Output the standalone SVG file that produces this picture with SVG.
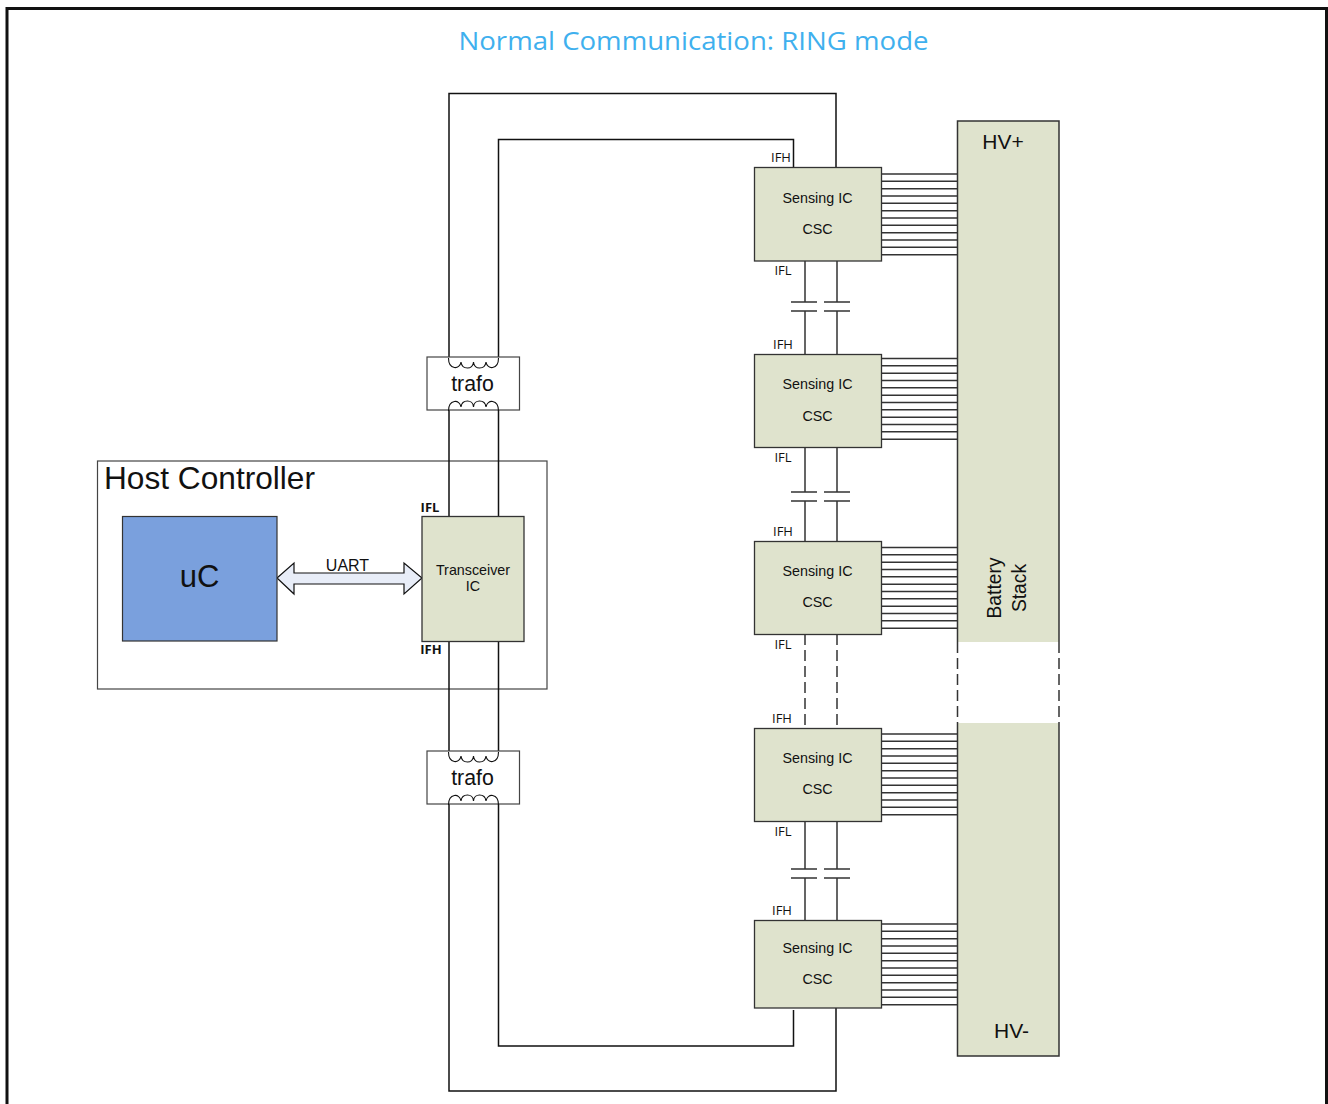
<svg xmlns="http://www.w3.org/2000/svg" width="1328" height="1104" viewBox="0 0 1328 1104">
<style>
text{font-family:"Liberation Sans",Arial,sans-serif;fill:#111;text-anchor:middle}
.b{fill:#dfe3cd;stroke:#333;stroke-width:1.3}
.w{fill:none;stroke:#111;stroke-width:1.5}
.g{fill:none;stroke:#333;stroke-width:1.5}
.d{stroke-dasharray:11 5}
.s{font-size:14.300px}
.l{font-family:"Open Sans","Liberation Sans",sans-serif;font-size:13px}
.t{font-size:21.300px}
.h{font-size:21px}
</style>
<defs>
<g id="wires" class="g">
<path d="M881 0H957M881 7.33H957M881 14.67H957M881 22H957M881 29.33H957M881 36.67H957M881 44H957M881 51.33H957M881 58.67H957M881 66H957M881 73.33H957M881 80.67H957"/>
</g>
<g id="coilT"><path class="w" style="stroke-width:1.100" d="M448.500 0C448.500 12 460 12 461 4C462 12 473 12 473.500 4C474 12 485 12 486 4C487 12 498.500 12 498.500 0"/></g>
<g id="coilB"><path class="w" style="stroke-width:1.100" d="M448.500 12C448.500 0 460 0 461 8C462 0 473 0 473.500 8C474 0 485 0 486 8C487 0 498.500 0 498.500 12"/></g>
<g id="cap" class="g"><path d="M791 0H817M791 9H817M824 0H850M824 9H850"/></g>
</defs>
<rect width="1328" height="1104" fill="#fff"/>
<path d="M7 1104V8.500H1326.500V1104" fill="none" stroke="#111" stroke-width="3"/>
<text id="title" x="693.500" y="50" style="font-family:'Open Sans','Liberation Sans',sans-serif;font-size:26px;fill:#3fb0ee" textLength="470" lengthAdjust="spacingAndGlyphs">Normal Communication: RING mode</text>

<g id="host-controller">
<rect x="97.500" y="461" width="449.500" height="228" fill="none" stroke="#444" stroke-width="1.200"/>
<text x="104" y="489" style="font-size:30.500px;text-anchor:start" textLength="211" lengthAdjust="spacingAndGlyphs">Host Controller</text>
</g>

<g id="connectors">
<path class="w" d="M449 357V93.500H836V167"/>
<path class="w" d="M498.500 357V139.500H793.500V167"/>
<path class="w" d="M449 804V1091H836V1008"/>
<path class="w" d="M498.500 804V1046H793.500V1010"/>
<path class="w" d="M449 410V516M498.500 410V516M449 641V751M498.500 641V751"/>
<path class="g" d="M805 261V302M805 311V354M837 261V302M837 311V354"/>
<use href="#cap" y="302"/>
<path class="g" d="M805 447V492M805 501V541M837 447V492M837 501V541"/>
<use href="#cap" y="492"/>
<path class="g d" d="M805 634V728M837 634V728"/>
<path class="g" d="M805 821V869M805 878V920M837 821V869M837 878V920"/>
<use href="#cap" y="869"/>
<use href="#wires" y="174"/>
<use href="#wires" y="358.500"/>
<use href="#wires" y="547.500"/>
<use href="#wires" y="734"/>
<use href="#wires" y="924"/>
<path d="M277 578L294 563V573H404V563L422 578L404 594V584H294V594Z" fill="#e8edf8" stroke="#111" stroke-width="1.200"/>
<text x="347.500" y="571" style="font-size:16px">UART</text>
</g>

<g id="trafo-top">
<rect x="427" y="357" width="92.500" height="53" fill="#fff" stroke="#444" stroke-width="1.200"/>
<use href="#coilT" y="358"/>
<use href="#coilB" y="399"/>
<text x="472.500" y="390.500" class="t">trafo</text>
</g>
<g id="trafo-bottom">
<rect x="427" y="751" width="92.500" height="53" fill="#fff" stroke="#444" stroke-width="1.200"/>
<use href="#coilT" y="752"/>
<use href="#coilB" y="793"/>
<text x="472.500" y="784.500" class="t">trafo</text>
</g>

<g id="uc">
<rect x="122.500" y="516.500" width="154.500" height="124.500" fill="#7aa0dd" stroke="#333" stroke-width="1.200"/>
<text x="199.500" y="587" style="font-size:31px">uC</text>
</g>
<g id="transceiver">
<rect class="b" x="422" y="516.500" width="102" height="125"/>
<text x="473" y="575" class="s">Transceiver</text>
<text x="473" y="591" class="s">IC</text>
<text x="430" y="512" class="l" style="font-weight:700">IFL</text>
<text x="431" y="654" class="l" style="font-weight:700">IFH</text>
</g>

<g id="csc-1">
<rect class="b" x="754.500" y="167.500" width="127" height="93.500"/>
<text x="817.500" y="203" class="s">Sensing IC</text>
<text x="817.500" y="234" class="s">CSC</text>
<text x="781" y="162" class="l">IFH</text>
<text x="783" y="275" class="l">IFL</text>
</g>
<g id="csc-2">
<rect class="b" x="754.500" y="354.500" width="127" height="93"/>
<text x="817.500" y="389" class="s">Sensing IC</text>
<text x="817.500" y="421" class="s">CSC</text>
<text x="783" y="349" class="l">IFH</text>
<text x="783" y="462" class="l">IFL</text>
</g>
<g id="csc-3">
<rect class="b" x="754.500" y="541.500" width="127" height="93"/>
<text x="817.500" y="576" class="s">Sensing IC</text>
<text x="817.500" y="607" class="s">CSC</text>
<text x="783" y="536" class="l">IFH</text>
<text x="783" y="649" class="l">IFL</text>
</g>
<g id="csc-4">
<rect class="b" x="754.500" y="728.500" width="127" height="93"/>
<text x="817.500" y="763" class="s">Sensing IC</text>
<text x="817.500" y="794" class="s">CSC</text>
<text x="782" y="723" class="l">IFH</text>
<text x="783" y="836" class="l">IFL</text>
</g>
<g id="csc-5">
<rect class="b" x="754.500" y="920.500" width="127" height="87.500"/>
<text x="817.500" y="953" class="s">Sensing IC</text>
<text x="817.500" y="984" class="s">CSC</text>
<text x="782" y="915" class="l">IFH</text>
</g>

<g id="battery-stack">
<rect x="957.500" y="121" width="101.500" height="521" fill="#dfe3cd"/>
<rect x="957.500" y="723" width="101.500" height="333" fill="#dfe3cd"/>
<path class="g" d="M957.500 642V121H1059V642M957.500 723V1056H1059V723"/>
<path class="g d" d="M957.500 642V723M1059 642V723"/>
<text x="1003" y="149" class="h">HV+</text>
<text x="1011.500" y="1038" class="h">HV-</text>
<text transform="translate(1001 588) rotate(-90)" style="font-size:19.300px">Battery</text>
<text transform="translate(1026 588) rotate(-90)" style="font-size:19.300px">Stack</text>
</g>
</svg>
